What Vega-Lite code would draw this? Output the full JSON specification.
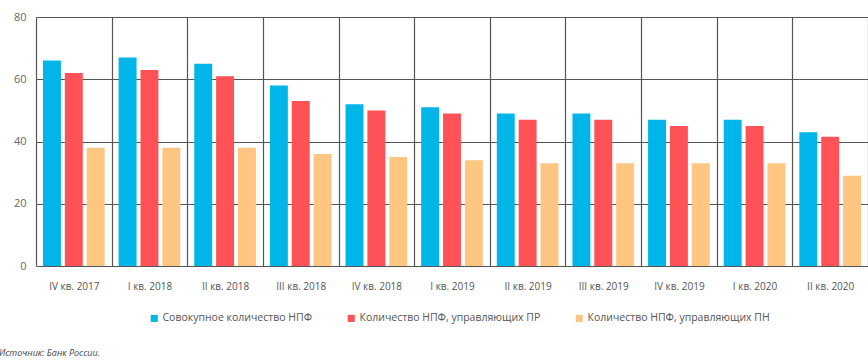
{
  "$schema": "https://vega.github.io/schema/vega-lite/v6.json",
  "width": 832,
  "height": 249,
  "autosize": {"type": "none"},
  "padding": {"left": 36, "top": 17, "right": 0, "bottom": 96},
  "background": "white",
  "config": {
    "view": {"stroke": null},
    "font": "Open Sans"
  },
  "title": {
    "text": "Источник: Банк России.",
    "orient": "bottom",
    "anchor": "start",
    "frame": "group",
    "dx": -37,
    "offset": 25,
    "fontSize": 9,
    "fontStyle": "italic",
    "fontWeight": "normal",
    "color": "#444444"
  },
  "data": {
    "values": [
      {"q": "IV кв. 2017", "s": "Совокупное количество НПФ", "v": 66},
      {"q": "IV кв. 2017", "s": "Количество НПФ, управляющих ПР", "v": 62},
      {"q": "IV кв. 2017", "s": "Количество НПФ, управляющих ПН", "v": 38},
      {"q": "I кв. 2018", "s": "Совокупное количество НПФ", "v": 67},
      {"q": "I кв. 2018", "s": "Количество НПФ, управляющих ПР", "v": 63},
      {"q": "I кв. 2018", "s": "Количество НПФ, управляющих ПН", "v": 38},
      {"q": "II кв. 2018", "s": "Совокупное количество НПФ", "v": 65},
      {"q": "II кв. 2018", "s": "Количество НПФ, управляющих ПР", "v": 61},
      {"q": "II кв. 2018", "s": "Количество НПФ, управляющих ПН", "v": 38},
      {"q": "III кв. 2018", "s": "Совокупное количество НПФ", "v": 58},
      {"q": "III кв. 2018", "s": "Количество НПФ, управляющих ПР", "v": 53},
      {"q": "III кв. 2018", "s": "Количество НПФ, управляющих ПН", "v": 36},
      {"q": "IV кв. 2018", "s": "Совокупное количество НПФ", "v": 52},
      {"q": "IV кв. 2018", "s": "Количество НПФ, управляющих ПР", "v": 50},
      {"q": "IV кв. 2018", "s": "Количество НПФ, управляющих ПН", "v": 35},
      {"q": "I кв. 2019", "s": "Совокупное количество НПФ", "v": 51},
      {"q": "I кв. 2019", "s": "Количество НПФ, управляющих ПР", "v": 49},
      {"q": "I кв. 2019", "s": "Количество НПФ, управляющих ПН", "v": 34},
      {"q": "II кв. 2019", "s": "Совокупное количество НПФ", "v": 49},
      {"q": "II кв. 2019", "s": "Количество НПФ, управляющих ПР", "v": 47},
      {"q": "II кв. 2019", "s": "Количество НПФ, управляющих ПН", "v": 33},
      {"q": "III кв. 2019", "s": "Совокупное количество НПФ", "v": 49},
      {"q": "III кв. 2019", "s": "Количество НПФ, управляющих ПР", "v": 47},
      {"q": "III кв. 2019", "s": "Количество НПФ, управляющих ПН", "v": 33},
      {"q": "IV кв. 2019", "s": "Совокупное количество НПФ", "v": 47},
      {"q": "IV кв. 2019", "s": "Количество НПФ, управляющих ПР", "v": 45},
      {"q": "IV кв. 2019", "s": "Количество НПФ, управляющих ПН", "v": 33},
      {"q": "I кв. 2020", "s": "Совокупное количество НПФ", "v": 47},
      {"q": "I кв. 2020", "s": "Количество НПФ, управляющих ПР", "v": 45},
      {"q": "I кв. 2020", "s": "Количество НПФ, управляющих ПН", "v": 33},
      {"q": "II кв. 2020", "s": "Совокупное количество НПФ", "v": 43},
      {"q": "II кв. 2020", "s": "Количество НПФ, управляющих ПР", "v": 41.5},
      {"q": "II кв. 2020", "s": "Количество НПФ, управляющих ПН", "v": 29}
    ]
  },
  "mark": {"type": "bar"},
  "encoding": {
    "x": {
      "field": "q",
      "type": "nominal",
      "sort": null,
      "scale": {"paddingInner": 0, "paddingOuter": 0},
      "axis": {
        "title": null,
        "labelAngle": 0,
        "tickBand": "extent",
        "ticks": false,
        "domain": false,
        "grid": true,
        "gridColor": "#555555",
        "gridWidth": 1.2,
        "labelFontSize": 10,
        "labelColor": "#555555",
        "labelPadding": 15
      }
    },
    "xOffset": {
      "field": "s",
      "type": "nominal",
      "sort": ["Совокупное количество НПФ", "Количество НПФ, управляющих ПР", "Количество НПФ, управляющих ПН"],
      "scale": {"paddingInner": 0.18, "paddingOuter": 0.32}
    },
    "y": {
      "field": "v",
      "type": "quantitative",
      "scale": {"domain": [0, 80]},
      "axis": {
        "title": null,
        "values": [0, 20, 40, 60, 80],
        "ticks": false,
        "domain": false,
        "grid": true,
        "gridColor": "#555555",
        "gridWidth": 1.2,
        "labelFontSize": 11,
        "labelColor": "#666666",
        "labelPadding": 10
      }
    },
    "color": {
      "field": "s",
      "type": "nominal",
      "sort": ["Совокупное количество НПФ", "Количество НПФ, управляющих ПР", "Количество НПФ, управляющих ПН"],
      "scale": {
        "domain": ["Совокупное количество НПФ", "Количество НПФ, управляющих ПР", "Количество НПФ, управляющих ПН"],
        "range": ["#00b5e8", "#ff5256", "#ffc682"]
      },
      "legend": {
        "title": null,
        "orient": "none",
        "legendX": 113,
        "legendY": 296,
        "direction": "horizontal",
        "symbolType": "square",
        "symbolSize": 50,
        "symbolStrokeWidth": 0,
        "labelFontSize": 10.5,
        "labelLimit": 0,
        "labelColor": "#555555",
        "columnPadding": 33,
        "labelOffset": 3
      }
    }
  }
}
